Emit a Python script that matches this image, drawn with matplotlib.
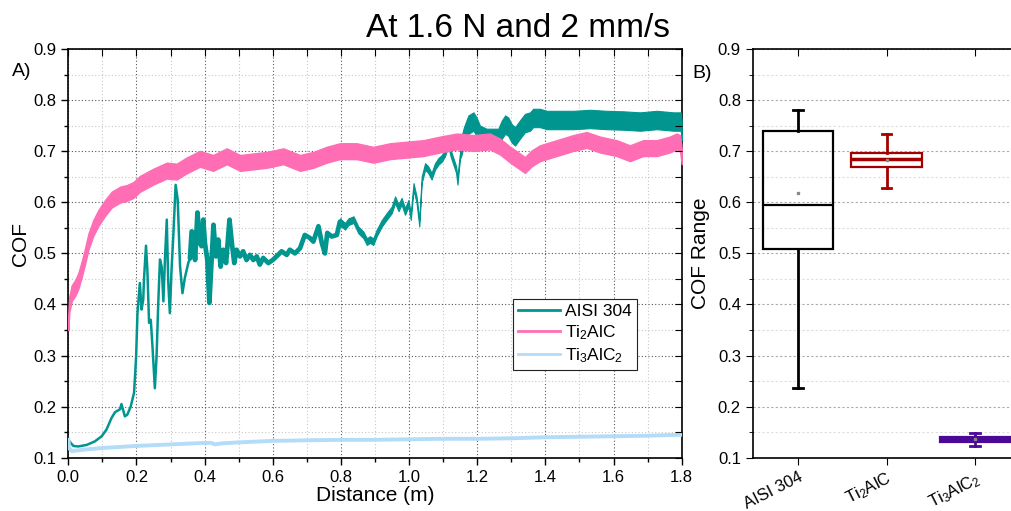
import numpy as np
import matplotlib
matplotlib.use("Agg")
import matplotlib.pyplot as plt
from matplotlib.ticker import MultipleLocator
from matplotlib.lines import Line2D

plt.rcParams['font.family'] = ['Liberation Sans', 'DejaVu Sans']
plt.rcParams['mathtext.fontset'] = 'custom'
plt.rcParams['mathtext.rm'] = 'Liberation Sans'
plt.rcParams['mathtext.it'] = 'Liberation Sans'
plt.rcParams['mathtext.default'] = 'regular'

# ---------------- data ----------------
series_labels = ["AISI 304", "Ti$_2$AlC", "Ti$_3$AlC$_2$"]

aisi_x = [0.000, 0.003, 0.015, 0.029, 0.054, 0.078, 0.098, 0.112, 0.127, 0.137, 0.152, 0.156,
          0.166, 0.173, 0.183, 0.193, 0.199, 0.203, 0.210, 0.215, 0.220, 0.222, 0.228, 0.232,
          0.237, 0.242, 0.247, 0.254, 0.259, 0.264, 0.269, 0.274, 0.279, 0.284, 0.289, 0.293,
          0.298, 0.303, 0.308, 0.315, 0.321, 0.328, 0.335, 0.342, 0.352, 0.357, 0.362, 0.367,
          0.372, 0.379, 0.386, 0.391, 0.396, 0.401, 0.408, 0.414, 0.419, 0.426, 0.433, 0.440,
          0.447, 0.455, 0.463, 0.473, 0.480, 0.487, 0.494, 0.504, 0.513, 0.523, 0.533, 0.543,
          0.553, 0.562, 0.572, 0.587, 0.600, 0.611, 0.626, 0.641, 0.650, 0.665, 0.680, 0.694,
          0.709, 0.719, 0.734, 0.744, 0.753, 0.760, 0.773, 0.788, 0.797, 0.812, 0.822, 0.837,
          0.851, 0.866, 0.876, 0.885, 0.895, 0.905, 0.920, 0.934, 0.949, 0.959, 0.969, 0.978,
          0.988, 0.998, 1.005, 1.013, 1.022, 1.030, 1.037, 1.047, 1.056, 1.066, 1.076, 1.086,
          1.096, 1.105, 1.115, 1.122, 1.130, 1.138, 1.142, 1.146, 1.152, 1.161, 1.174, 1.189,
          1.198, 1.208, 1.218, 1.227, 1.247, 1.262, 1.272, 1.282, 1.291, 1.301, 1.311, 1.325,
          1.340, 1.355, 1.364, 1.384, 1.404, 1.433, 1.482, 1.531, 1.580, 1.629, 1.678, 1.727,
          1.776, 1.797, 1.800]
aisi_y = [0.132, 0.132, 0.123, 0.122, 0.125, 0.132, 0.142, 0.155, 0.178, 0.189, 0.195, 0.205,
          0.181, 0.184, 0.200, 0.227, 0.298, 0.383, 0.442, 0.390, 0.410, 0.448, 0.515, 0.468,
          0.364, 0.370, 0.318, 0.236, 0.298, 0.403, 0.488, 0.474, 0.406, 0.494, 0.566, 0.448,
          0.383, 0.468, 0.533, 0.634, 0.605, 0.474, 0.422, 0.452, 0.481, 0.490, 0.543, 0.540,
          0.487, 0.580, 0.520, 0.514, 0.566, 0.520, 0.487, 0.403, 0.468, 0.556, 0.494, 0.527,
          0.474, 0.507, 0.481, 0.566, 0.520, 0.481, 0.507, 0.494, 0.504, 0.487, 0.497, 0.487,
          0.494, 0.478, 0.491, 0.481, 0.487, 0.494, 0.504, 0.497, 0.507, 0.500, 0.510, 0.536,
          0.530, 0.523, 0.553, 0.520, 0.500, 0.540, 0.533, 0.536, 0.562, 0.553, 0.562, 0.566,
          0.546, 0.536, 0.523, 0.527, 0.523, 0.540, 0.559, 0.572, 0.585, 0.605, 0.589, 0.602,
          0.582, 0.598, 0.572, 0.631, 0.605, 0.559, 0.644, 0.670, 0.664, 0.651, 0.670, 0.680,
          0.686, 0.696, 0.716, 0.696, 0.680, 0.664, 0.641, 0.670, 0.706, 0.729, 0.752, 0.758,
          0.748, 0.732, 0.729, 0.726, 0.726, 0.726, 0.742, 0.752, 0.748, 0.735, 0.729, 0.742,
          0.755, 0.758, 0.765, 0.765, 0.761, 0.761, 0.761, 0.763, 0.761, 0.760, 0.758, 0.761,
          0.758, 0.758, 0.740]

ti2_x = [0.000, 0.003, 0.010, 0.020, 0.029, 0.039, 0.049, 0.059, 0.073, 0.088, 0.108, 0.127,
         0.152, 0.171, 0.191, 0.210, 0.249, 0.289, 0.318, 0.347, 0.386, 0.425, 0.465, 0.504,
         0.543, 0.582, 0.631, 0.680, 0.719, 0.758, 0.797, 0.846, 0.895, 0.944, 0.993, 1.042,
         1.091, 1.140, 1.189, 1.237, 1.267, 1.297, 1.325, 1.340, 1.360, 1.384, 1.433, 1.482,
         1.521, 1.560, 1.609, 1.648, 1.687, 1.727, 1.765, 1.785, 1.795, 1.800]
ti2_y = [0.365, 0.400, 0.422, 0.432, 0.445, 0.468, 0.494, 0.523, 0.549, 0.569, 0.589, 0.605,
         0.615, 0.618, 0.624, 0.636, 0.650, 0.662, 0.660, 0.672, 0.685, 0.677, 0.690, 0.677,
         0.680, 0.683, 0.690, 0.677, 0.683, 0.693, 0.700, 0.700, 0.693, 0.700, 0.703, 0.706,
         0.713, 0.719, 0.716, 0.719, 0.709, 0.693, 0.680, 0.673, 0.686, 0.696, 0.706, 0.716,
         0.722, 0.713, 0.706, 0.696, 0.706, 0.706, 0.713, 0.719, 0.716, 0.690]

ti3_x = [0.000, 0.003, 0.010, 0.050, 0.100, 0.200, 0.300, 0.400, 0.420, 0.430, 0.450, 0.500,
         0.600, 0.700, 0.800, 0.900, 1.000, 1.100, 1.200, 1.300, 1.400, 1.500, 1.600, 1.700, 1.800]
ti3_y = [0.135, 0.118, 0.113, 0.116, 0.119, 0.123, 0.126, 0.129, 0.129, 0.126, 0.128, 0.130,
         0.133, 0.134, 0.135, 0.135, 0.136, 0.137, 0.137, 0.138, 0.140, 0.141, 0.142, 0.143, 0.145]

# box plot statistics (COF range)
box_names = ["AISI 304", "Ti$_2$AlC", "Ti$_3$AlC$_2$"]
box_whislo = [0.236, 0.628, 0.122]
box_q1 = [0.508, 0.670, 0.130]
box_med = [0.594, 0.685, 0.136]
box_q3 = [0.740, 0.696, 0.141]
box_whishi = [0.781, 0.734, 0.148]
box_mean = [0.618, 0.682, 0.136]

# ---------------- styling ----------------
c_aisi = '#00968f'
c_ti2 = '#ff6eb4'
c_ti3 = '#b3dcf8'
box_colors = ['#000000', '#a50000', '#4b0a96']

W, H = 1012, 511
fig = plt.figure(figsize=(W / 100, H / 100), dpi=100)


def fx(px):
    return px / W


def fy(py):
    return 1 - py / H


axL = fig.add_axes([fx(68.3), fy(457.7), fx(681.7) - fx(68.3), fy(49) - fy(457.7)])
axR = fig.add_axes([fx(752.7), fy(457.7), 1 - fx(752.7), fy(49) - fy(457.7)])

# ---- left panel ----
ax = axL
ax.set_xlim(0, 1.8)
ax.set_ylim(0.1, 0.9)
ax.xaxis.set_major_locator(MultipleLocator(0.2))
ax.xaxis.set_minor_locator(MultipleLocator(0.1))
ax.yaxis.set_major_locator(MultipleLocator(0.1))
ax.yaxis.set_minor_locator(MultipleLocator(0.05))
ax.grid(True, which='major', linestyle=(0, (1, 2)), color='#555555', linewidth=0.8)
ax.grid(True, which='minor', linestyle=(0, (1, 2)), color='#c8c8c8', linewidth=0.8)
ax.set_axisbelow(True)

# AISI 304: thin noisy line early, thicker band later
ax_x = np.array(aisi_x)
ax_y = np.array(aisi_y)
for a, b, lw in [(0.0, 0.36, 1.8), (0.357, 0.80, 3.4)]:
    m = (ax_x >= a) & (ax_x <= b)
    ax.plot(ax_x[m], ax_y[m], color=c_aisi, lw=lw, solid_joinstyle='round',
            solid_capstyle='round', zorder=3)
m = (ax_x >= 0.797) & (ax_x <= 1.161)
ax.fill_between(ax_x[m], ax_y[m] - 0.0065, ax_y[m] + 0.0065, color=c_aisi, lw=0.8,
                edgecolor=c_aisi, zorder=3)
m = (ax_x >= 1.152)
ax.fill_between(ax_x[m], ax_y[m] - 0.018, ax_y[m] + 0.018, color=c_aisi, lw=0.8,
                edgecolor=c_aisi, zorder=3)

# Ti2AlC: thick band
t2x = np.array(ti2_x)
t2y = np.array(ti2_y)
ax.fill_between(t2x, t2y - 0.0155, t2y + 0.0155, color=c_ti2, lw=1.0, edgecolor=c_ti2, zorder=4)

ax.plot(ti3_x, ti3_y, color=c_ti3, lw=2.8, zorder=5, solid_joinstyle='round')

handles = [Line2D([], [], color=c_aisi, lw=2),
           Line2D([], [], color=c_ti2, lw=2),
           Line2D([], [], color=c_ti3, lw=2)]
leg = ax.legend(handles, series_labels, loc='upper left', bbox_to_anchor=(0.725, 0.389),
                borderaxespad=0, fontsize=12.5, handlelength=2.4, handletextpad=0.3,
                labelspacing=0.25, borderpad=0.3, fancybox=False, framealpha=1)
leg.get_frame().set_edgecolor('#222222')
leg.get_frame().set_linewidth(0.8)
leg.set_zorder(10)

ax.tick_params(axis='both', which='both', labelsize=12, width=1, color='black',
               top=False, right=False)
ax.tick_params(axis='both', which='major', length=5, direction='out')
ax.tick_params(axis='both', which='minor', length=3, direction='out')
for sp in ax.spines.values():
    sp.set_linewidth(1.2)
axt = ax.twiny()
axt.set_xlim(ax.get_xlim())
axt.xaxis.set_major_locator(MultipleLocator(0.1))
axt.tick_params(axis='x', direction='in', length=5, labeltop=False, top=True)
axr = ax.twinx()
axr.set_ylim(ax.get_ylim())
axr.yaxis.set_major_locator(MultipleLocator(0.05))
axr.tick_params(axis='y', direction='in', length=5, labelright=False, right=True)
for a_ in (axt, axr):
    for sp in a_.spines.values():
        sp.set_visible(False)

ax.set_xticks(ax.get_xticks())
ax.set_xticklabels([f"{v:.1f}" for v in ax.get_xticks()])
ax.set_yticks(ax.get_yticks())
ax.set_yticklabels([f"{v:.1f}" for v in ax.get_yticks()])
ax.set_xlim(0, 1.8)
ax.set_ylim(0.1, 0.9)

fig.text(fx(375), fy(495), "Distance (m)", ha='center', va='center', fontsize=15)
fig.text(fx(20.5), fy(244), "COF", ha='center', va='center', fontsize=15, rotation=90)
fig.text(fx(22), fy(71), "A)", ha='center', va='center', fontsize=14)

# ---- right panel ----
ax = axR
positions = [1, 2, 3]
for i in range(3):
    col = box_colors[i]
    face = col if i == 2 else 'none'
    st = dict(label=box_names[i], whislo=box_whislo[i], q1=box_q1[i], med=box_med[i],
              q3=box_q3[i], whishi=box_whishi[i], mean=box_mean[i], fliers=[])
    ax.bxp([st], positions=[positions[i]], widths=0.8, showmeans=True,
           showfliers=False, patch_artist=True, capwidths=0.11,
           boxprops=dict(facecolor=face, edgecolor=col, linewidth=1.6),
           medianprops=dict(color=col, linewidth=1.6 if i == 0 else 2.5),
           whiskerprops=dict(color=col, linewidth=2.0),
           capprops=dict(color=col, linewidth=2.0),
           meanprops=dict(marker='s', markersize=1.5, markerfacecolor='#888888',
                          markeredgecolor='#888888'),
           manage_ticks=False, zorder=3)

ax.set_xlim(0.488, 3.418)
ax.set_ylim(0.1, 0.9)
ax.set_xticks(positions)
ax.set_xticklabels(box_names, rotation=27, ha='right', rotation_mode='anchor', fontsize=12)
ax.yaxis.set_major_locator(MultipleLocator(0.1))
ax.yaxis.set_minor_locator(MultipleLocator(0.05))
ax.set_yticks(ax.get_yticks())
ax.set_yticklabels([f"{v:.1f}" for v in ax.get_yticks()])
ax.set_ylim(0.1, 0.9)
ax.grid(True, axis='y', which='major', linestyle=(0, (2, 2)), color='#aaaaaa', linewidth=0.8)
ax.grid(True, axis='y', which='minor', linestyle=(0, (2, 2)), color='#dddddd', linewidth=0.8)
ax.set_axisbelow(True)
ax.tick_params(axis='y', which='both', labelsize=12, direction='out')
ax.tick_params(axis='y', which='major', length=5)
ax.tick_params(axis='y', which='minor', length=3)
ax.tick_params(axis='x', which='major', length=5, direction='out', top=False)
ax.spines['right'].set_visible(False)
for sp in ('left', 'top', 'bottom'):
    ax.spines[sp].set_linewidth(1.2)
axt2 = ax.twiny()
axt2.set_xlim(ax.get_xlim())
axt2.set_xticks(positions)
axt2.tick_params(axis='x', direction='in', length=5, labeltop=False)
for sp in axt2.spines.values():
    sp.set_visible(False)

fig.text(fx(700.5), fy(253.5), "COF Range", ha='center', va='center', fontsize=15, rotation=90)
fig.text(fx(702), fy(73), "B)", ha='center', va='center', fontsize=14)

fig.text(fx(518), fy(37), "At 1.6 N and 2 mm/s", ha='center', va='baseline', fontsize=24)

fig.savefig("out.png", dpi=100)
